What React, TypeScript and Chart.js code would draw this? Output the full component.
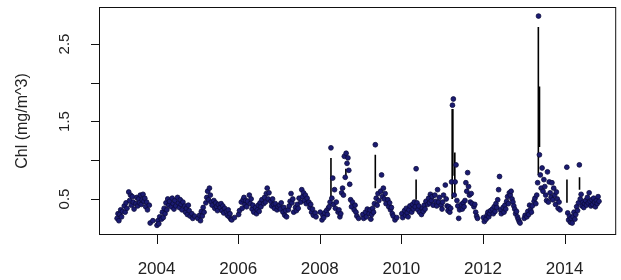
import { useEffect, useRef } from "react";
import { Chart, registerables } from "chart.js";

Chart.register(...registerables);

const _ = null;

// 8-day composite chlorophyll values, one array per year (46 composites, null = no data)
const years = [2003, 2004, 2005, 2006, 2007, 2008, 2009, 2010, 2011, 2012, 2013, 2014];

const chl2003 = [
  _, 0.25, 0.31, 0.22, 0.30, 0.36, 0.27, 0.34, _, 0.41,
  0.33, 0.45, 0.38, _, 0.59, 0.48, 0.55, 0.42, 0.53, 0.46,
  0.37, _, 0.44, 0.52, 0.41, 0.50, 0.45, 0.55, 0.43, 0.49,
  0.56, 0.47, 0.51, 0.40, 0.46, 0.36, _, 0.42, 0.19, _,
  _, 0.22, _, _, _, _,
];
const chl2004 = [
  0.16, 0.22, 0.18, 0.27, _, 0.24, 0.33, 0.26, 0.38, 0.31,
  0.45, 0.36, 0.50, 0.42, 0.47, _, 0.40, 0.51, 0.44, 0.37,
  0.48, 0.41, _, 0.52, 0.45, 0.39, 0.49, 0.43, 0.36, 0.46,
  _, 0.41, 0.33, 0.38, 0.30, 0.42, 0.35, 0.28, _, 0.31,
  0.25, _, 0.28, _, _, _,
];
const chl2005 = [
  0.25, _, 0.29, 0.22, 0.34, 0.28, 0.39, 0.33, _, 0.45,
  0.52, 0.60, 0.49, 0.64, 0.55, 0.46, 0.42, _, 0.48, 0.38,
  0.45, 0.40, 0.35, 0.43, _, 0.39, 0.44, 0.35, 0.41, 0.32,
  0.38, _, 0.34, 0.29, 0.36, 0.27, 0.31, 0.24, 0.23, _,
  _, 0.26, _, _, _, _,
];
const chl2006 = [
  0.30, 0.35, _, 0.46, 0.38, 0.49, 0.52, 0.43, 0.48, 0.40,
  0.47, _, 0.55, 0.44, 0.50, 0.37, 0.42, 0.33, _, 0.39,
  0.31, 0.36, 0.42, 0.34, 0.45, 0.40, 0.49, _, 0.44, 0.52,
  0.46, 0.57, 0.64, 0.50, 0.58, _, 0.47, 0.41, 0.50, 0.43,
  0.38, 0.44, _, 0.36, 0.40, _,
];
const chl2007 = [
  0.42, 0.37, 0.45, _, 0.33, 0.39, 0.29, 0.35, 0.27, _,
  0.36, 0.41, 0.47, 0.57, 0.45, 0.50, 0.33, _, 0.39, 0.35,
  0.43, 0.38, 0.51, _, 0.46, 0.62, 0.53, 0.58, 0.48, 0.55,
  0.44, 0.51, _, 0.46, 0.39, 0.43, 0.33, 0.37, 0.29, _,
  0.32, 0.27, _, _, _, _,
];
const chl2008 = [
  0.33, _, 0.23, 0.29, 0.26, 0.32, _, 0.35, 0.30, 0.38,
  0.40, 0.46, 1.16, 0.51, 0.77, 0.43, 0.62, 0.38, 0.46, _,
  0.33, 0.36, 0.27, 0.31, 0.58, 0.64, 0.55, 1.05, 0.78, 1.09,
  0.96, 1.03, 0.87, 0.69, 0.49, 0.40, 0.46, _, 0.36, 0.42,
  0.33, 0.28, _, 0.25, _, _,
];
const chl2009 = [
  _, _, 0.30, 0.25, _, 0.33, 0.27, 0.37, _, 0.31,
  0.36, 0.24, 0.30, 0.38, 0.33, 0.44, 1.20, 0.51, 0.42, 0.57,
  0.48, _, 0.60, 0.81, 0.53, 0.64, 0.50, 0.57, 0.44, _,
  0.49, 0.40, 0.45, 0.36, 0.39, 0.31, 0.28, _, 0.23, _,
  0.26, _, _, _, _, _,
];
const chl2010 = [
  0.31, 0.26, _, 0.35, 0.29, 0.38, 0.32, 0.27, 0.36, 0.41,
  _, 0.33, 0.43, 0.37, 0.46, 0.40, 0.89, 0.45, 0.36, 0.41,
  0.33, _, 0.30, 0.38, 0.34, 0.42, 0.37, 0.47, _, 0.43,
  0.51, 0.45, 0.56, 0.48, 0.53, 0.42, _, 0.55, 0.47, 0.41,
  0.62, 0.46, 0.52, _, 0.42, 0.37,
];
const chl2011 = [
  0.46, 0.55, _, 0.68, 0.50, 0.41, 0.35, 0.40, 0.33, 0.38,
  0.72, 1.71, 1.79, 0.55, 0.72, 0.94, 0.48, 0.41, 0.25, 0.36,
  _, 0.43, 0.37, 0.45, 0.40, 0.48, 0.71, 0.60, 0.84, 0.66,
  0.55, 0.46, 0.57, 0.44, _, 0.40, 0.43, 0.33, 0.28, 0.25,
  _, _, _, _, _, _,
];
const chl2012 = [
  0.26, 0.21, _, 0.24, 0.29, 0.33, 0.27, 0.31, 0.35, _,
  0.37, 0.31, 0.40, 0.34, 0.44, 0.39, 0.49, 0.62, 0.79, 0.36,
  0.31, _, 0.39, 0.33, 0.42, 0.37, 0.47, 0.53, 0.44, 0.58,
  0.55, 0.60, 0.50, 0.46, 0.41, 0.37, 0.31, 0.34, 0.27, 0.24,
  0.21, 0.19, _, _, _, _,
];
const chl2013 = [
  0.25, 0.29, _, 0.27, 0.34, 0.30, 0.42, 0.36, 0.33, 0.41,
  _, 0.47, 0.51, 0.44, 0.55, 0.71, 2.86, 1.07, 0.81, 0.64,
  0.90, 0.60, 0.75, 0.66, 0.55, 0.48, 0.85, 0.46, 0.72, 0.58,
  0.52, 0.71, 0.49, 0.64, 0.55, 0.43, 0.59, 0.50, 0.38, 0.46,
  0.36, _, _, _, _, _,
];
const chl2014 = [
  _, _, 0.91, 0.32, 0.23, 0.28, 0.20, 0.25, 0.19, 0.27,
  0.33, 0.24, 0.30, 0.40, 0.35, 0.45, 0.94, 0.50, 0.56, 0.41,
  0.46, 0.39, 0.44, 0.48, 0.42, 0.52, 0.45, 0.58, 0.47, 0.41,
  0.49, 0.43, 0.51, 0.46, 0.40, 0.48, 0.44, 0.53, 0.47, _,
  _, _, _, _, _, _,
];
const chlByYear = [chl2003, chl2004, chl2005, chl2006, chl2007, chl2008, chl2009, chl2010, chl2011, chl2012, chl2013, chl2014];

// vertical connecting segments visible in the plot (date, low, high)
const segDates = [2008.274, 2008.64, 2009.361, 2010.361, 2011.245, 2011.262, 2011.31, 2013.357, 2013.385, 2014.058, 2014.366];
const segLow = [0.53, 0.77, 0.64, 0.49, 0.50, 0.80, 0.55, 0.81, 1.17, 0.45, 0.62];
const segHigh = [1.03, 0.89, 1.07, 0.75, 1.66, 1.66, 1.10, 2.72, 1.95, 0.75, 0.78];

const yTicks = [0.5, 1.0, 1.5, 2.0, 2.5];
const yTickLabels = ["0.5", "", "1.5", "", "2.5"];
const xTicks = [2004, 2006, 2008, 2010, 2012, 2014];
const xTickLabels = ["2004", "2006", "2008", "2010", "2012", "2014"];
const yTitle = "Chl (mg/m^3)";

export default function App() {
  const ref = useRef<HTMLCanvasElement>(null);

  useEffect(() => {
    if (!ref.current) return;
    const points: { x: number; y: number }[] = [];
    years.forEach((yr, k) => {
      chlByYear[k].forEach((v, i) => {
        if (v !== null) points.push({ x: yr + (i * 8 + 4) / 365.25, y: v as number });
      });
    });
    const segs: { x: number; y: number | null }[] = [];
    segDates.forEach((d, i) => {
      segs.push({ x: d, y: segLow[i] });
      segs.push({ x: d, y: segHigh[i] });
      segs.push({ x: d, y: null });
    });

    const axesPlugin = {
      id: "rAxes",
      afterDraw(chart: any) {
        const ctx = chart.ctx as CanvasRenderingContext2D;
        const { left, right, top, bottom } = chart.chartArea;
        const xs = chart.scales.x;
        const ys = chart.scales.y;
        ctx.save();
        ctx.strokeStyle = "#111";
        ctx.lineWidth = 1;
        ctx.strokeRect(left + 0.5, top + 0.5, right - left - 1, bottom - top - 1);
        ctx.fillStyle = "#222";
        ctx.beginPath();
        yTicks.forEach((v) => {
          const py = Math.round(ys.getPixelForValue(v)) + 0.5;
          ctx.moveTo(left - 8, py);
          ctx.lineTo(left + 0.5, py);
        });
        xTicks.forEach((v) => {
          const px = Math.round(xs.getPixelForValue(v)) + 0.5;
          ctx.moveTo(px, bottom - 0.5);
          ctx.lineTo(px, bottom + 9);
        });
        ctx.stroke();
        ctx.font = "15px 'Liberation Sans', Arial, sans-serif";
        ctx.textAlign = "center";
        ctx.textBaseline = "middle";
        yTicks.forEach((v, i) => {
          if (!yTickLabels[i]) return;
          const py = ys.getPixelForValue(v);
          ctx.save();
          ctx.translate(65, py);
          ctx.rotate(-Math.PI / 2);
          ctx.fillText(yTickLabels[i], 0, 0);
          ctx.restore();
        });
        ctx.font = "16px 'Liberation Sans', Arial, sans-serif";
        ctx.save();
        ctx.translate(23, (top + bottom) / 2);
        ctx.rotate(-Math.PI / 2);
        ctx.fillText(yTitle, 0, 0);
        ctx.restore();
        ctx.font = "17px 'Liberation Sans', Arial, sans-serif";
        xTicks.forEach((v, i) => {
          ctx.fillText(xTickLabels[i], xs.getPixelForValue(v), 269);
        });
        ctx.restore();
      },
    };

    const chart = new Chart(ref.current, {
      type: "scatter",
      data: {
        datasets: [
          {
            type: "line",
            data: segs as any,
            borderColor: "#000",
            borderWidth: 1.6,
            pointRadius: 0,
            spanGaps: false,
            showLine: true,
            order: 2,
          } as any,
          {
            data: points,
            backgroundColor: "#1b1b72",
            borderColor: "#0b0b3c",
            borderWidth: 0.8,
            pointRadius: 2.4,
            order: 1,
          },
        ],
      },
      options: {
        animation: false,
        responsive: false,
        devicePixelRatio: 1,
        layout: { padding: { left: 99, right: 1, top: 7, bottom: 45 } },
        plugins: { legend: { display: false }, tooltip: { enabled: false } },
        scales: {
          x: { type: "linear", min: 2002.589, max: 2015.265, display: false },
          y: { type: "linear", min: 0.0355, max: 2.977, display: false },
        },
      },
      plugins: [axesPlugin],
    });
    return () => chart.destroy();
  }, []);

  return (
    <div style={{ position: "fixed", left: 0, top: 0, width: 621, height: 280, background: "#fff" }}>
      <canvas ref={ref} width={621} height={280} />
    </div>
  );
}
